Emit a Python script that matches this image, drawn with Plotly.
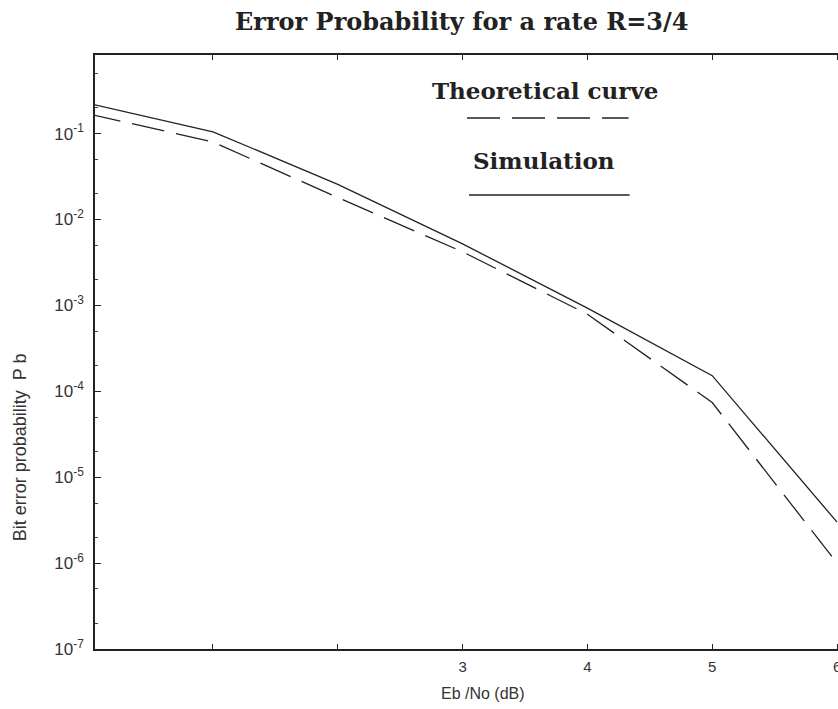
import plotly.graph_objects as go

# Data
ebno_db = [0, 1, 2, 3, 4, 5, 6]
simulation = [0.225, 0.105, 0.0257, 5.2e-3, 9.3e-4, 1.52e-4, 3.0e-6]
theoretical = [0.17, 0.08, 0.018, 4.2e-3, 7.9e-4, 7.4e-5, 1.0e-6]

x_tickvals = [1, 2, 3, 4, 5, 6]
x_ticktext = ["", "", "3", "4", "5", "6"]
y_tickvals = [1e-1, 1e-2, 1e-3, 1e-4, 1e-5, 1e-6, 1e-7]
y_ticktext = ["10<sup>-1</sup>", "10<sup>-2</sup>", "10<sup>-3</sup>", "10<sup>-4</sup>",
              "10<sup>-5</sup>", "10<sup>-6</sup>", "10<sup>-7</sup>"]

# Figure is wider than the 838 px window; the plot runs past the right edge
W, H = 860, 709
L, T, R = 95, 55, 0
B = H - 649
PW, PH = W - L - R, H - T - B

def fx(page_x):
    return (page_x - L) / PW

def fy(page_y):
    return 1 - (page_y - T) / PH

fig = go.Figure()
fig.add_trace(go.Scatter(x=ebno_db, y=simulation, mode="lines", name="Simulation",
                         line=dict(color="#222", width=1.3)))
fig.add_trace(go.Scatter(x=ebno_db, y=theoretical, mode="lines", name="Theoretical curve",
                         line=dict(color="#222", width=1.3, dash="33px,12px")))

serif = "DejaVu Serif, Liberation Serif, serif"
sans = "Liberation Sans, Arial, sans-serif"

def note(text, x, y, size, family, color="#222", angle=0):
    fig.add_annotation(text=text, xref="paper", yref="paper", x=fx(x), y=fy(y),
                       xanchor="center", yanchor="middle", showarrow=False,
                       textangle=angle, font=dict(family=family, size=size, color=color))

note("<b>Error Probability for a rate R=3/4</b>", 463, 22, 24, serif)
note("<b>Theoretical curve</b>", 546, 90, 23, serif)
note("<b>Simulation</b>", 545, 160, 23, serif)
note("Eb /No (dB)", 484, 693, 16, sans, "#333")
note("Bit error probability  P b", 20, 447, 18, sans, "#333", -90)

fig.add_shape(type="line", xref="paper", yref="paper",
              x0=fx(468), x1=fx(630), y0=fy(118), y1=fy(118),
              line=dict(color="#222", width=1.3, dash="33px,12px"))
fig.add_shape(type="line", xref="paper", yref="paper",
              x0=fx(470), x1=fx(631), y0=fy(195), y1=fy(195),
              line=dict(color="#222", width=1.3))

x_per_px = 5.945 / 744.0
fig.update_layout(
    width=W, height=H,
    margin=dict(l=L, r=R, t=T, b=B),
    paper_bgcolor="white", plot_bgcolor="white",
    showlegend=False,
    xaxis=dict(range=[0.055, 0.055 + PW * x_per_px], tickvals=x_tickvals, ticktext=x_ticktext,
               ticks="inside", ticklen=5, tickcolor="#222", showgrid=False, zeroline=False,
               showline=True, linecolor="#222", linewidth=1.5, mirror="ticks",
               ticklabelstandoff=3, ticklabeloverflow="allow",
               tickfont=dict(family=sans, size=15, color="#333")),
    yaxis=dict(type="log", range=[-7, -0.085], tickvals=y_tickvals, ticktext=y_ticktext,
               ticks="inside", ticklen=6, tickcolor="#222", showgrid=False, zeroline=False,
               showline=True, linecolor="#222", linewidth=1.5, mirror="ticks",
               minor=dict(ticks="inside", ticklen=3, tickcolor="#444", showgrid=False),
               ticklabelstandoff=6,
               tickfont=dict(family=sans, size=17, color="#333")),
)

fig.write_html("out.html",
               config={"displayModeBar": False},
               post_script="document.body.style.margin='0';"
                           "document.body.style.overflow='hidden';")
